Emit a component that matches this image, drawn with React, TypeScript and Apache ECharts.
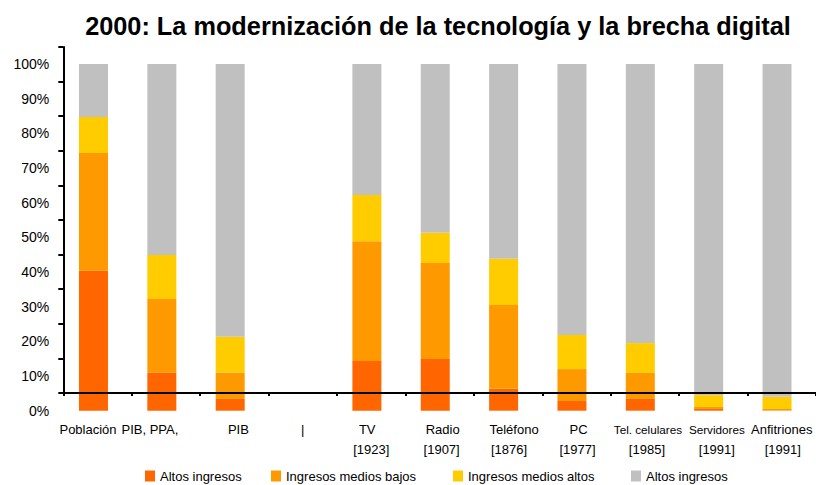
import React, { useEffect, useRef } from "react";
import * as echarts from "echarts";

const titleText = "2000: La modernización de la tecnología y la brecha digital";

const categories = [
  "Población",
  "PIB, PPA,",
  "PIB",
  "|",
  "TV\n[1923]",
  "Radio\n[1907]",
  "Teléfono\n[1876]",
  "PC\n[1977]",
  "Tel. celulares\n[1985]",
  "Servidores\n[1991]",
  "Anfitriones\n[1991]",
];

const seriesLabels = [
  "Altos ingresos",
  "Ingresos medios bajos",
  "Ingresos medios altos",
  "Altos ingresos",
];

const rojo = [40.4, 11.0, 3.4, null, 14.3, 14.9, 6.3, 2.8, 3.4, 0.5, 0.1];
const naranja = [33.9, 21.2, 7.6, null, 34.6, 27.7, 24.2, 9.2, 7.5, 0.6, 0.4];
const amarillo = [10.4, 12.7, 10.3, null, 13.3, 8.7, 13.3, 9.8, 8.6, 3.4, 3.5];
const gris = [15.3, 55.1, 78.7, null, 37.8, 48.7, 56.2, 78.2, 80.5, 95.5, 96.0];

const yTicks = [0, 10, 20, 30, 40, 50, 60, 70, 80, 90, 100];

const seriesValues = [rojo, naranja, amarillo, gris];
const colors = ["#FF6600", "#FF9900", "#FFCC00", "#C0C0C0"];

// label styling (horizontal nudges per line, px) and small-font categories
const labelShift = [
  [-9.5], [-16], [4], [0], [-4, 0], [3, 2], [6, 1], [2, 1], [3, 2], [3.5, 3.5], [0, 1],
];
const smallLabel = [8, 9];

const FONT = "'Liberation Sans', Arial, sans-serif";

export default function App() {
  const ref = useRef<HTMLDivElement>(null);

  useEffect(() => {
    document.body.style.margin = "0";
    if (!ref.current) return;
    const chart = echarts.init(ref.current, null, { renderer: "svg" });

    const rich: Record<string, any> = {};
    categories.forEach((c, k) => {
      c.split("\n").forEach((_, j) => {
        const d = (labelShift[k] && labelShift[k][j]) || 0;
        rich[`c${k}l${j}`] = {
          fontSize: smallLabel.includes(k) && j === 0 ? 11.7 : 13,
          lineHeight: 20,
          color: "#000",
          fontFamily: FONT,
          padding: d >= 0 ? [0, 0, 0, 2 * d] : [0, -2 * d, 0, 0],
        };
      });
    });

    const legendLefts = [145, 271, 453, 631];

    chart.setOption({
      animation: false,
      backgroundColor: "#fff",
      title: {
        text: titleText,
        left: 433,
        textAlign: "center",
        top: 8,
        textStyle: { fontSize: 25.3, fontWeight: "bold", color: "#000", fontFamily: FONT },
      },
      legend: seriesLabels.map((lab, i) => ({
        left: legendLefts[i],
        top: 469,
        data: [`s${i}`],
        formatter: () => lab,
        icon: "rect",
        itemWidth: 10,
        itemHeight: 11,
        selectedMode: false,
        padding: 0,
        textStyle: { fontSize: 13, lineHeight: 14, color: "#000", fontFamily: FONT },
      })),
      grid: [
        { left: 59.3, right: 4.8, top: 64, height: 346.7, containLabel: false },
        { left: 63.3, right: 0, top: 47, height: 346, containLabel: false },
      ],
      xAxis: [
        { type: "category", gridIndex: 0, data: categories, show: false },
        {
          type: "category",
          gridIndex: 1,
          data: categories,
          z: 10,
          axisLine: { show: true, lineStyle: { color: "#000", width: 2 } },
          axisTick: { show: true, length: 3, lineStyle: { color: "#000", width: 2 } },
          axisLabel: {
            interval: 0,
            margin: 26,
            rich,
            formatter: (v: string, idx: number) =>
              v
                .split("\n")
                .map((ln, j) => `{c${idx}l${j}|${ln}}`)
                .join("\n"),
          },
        },
      ],
      yAxis: [
        {
          type: "value",
          gridIndex: 0,
          min: 0,
          max: 100,
          interval: 10,
          axisLine: { show: false },
          axisTick: { show: false },
          splitLine: { show: false },
          axisLabel: {
            margin: 10,
            fontSize: 14,
            color: "#000",
            fontFamily: FONT,
            formatter: (v: number) => (yTicks.includes(v) ? `${v}%` : ""),
          },
        },
        {
          type: "value",
          gridIndex: 1,
          min: 0,
          max: 100,
          interval: 10,
          z: 10,
          axisLine: { show: true, lineStyle: { color: "#000", width: 2 } },
          axisTick: { show: true, length: 5, lineStyle: { color: "#000", width: 2 } },
          axisLabel: { show: false },
          splitLine: { show: false },
        },
      ],
      series: seriesValues.map((vals, i) => ({
        name: `s${i}`,
        type: "bar",
        stack: "total",
        xAxisIndex: 0,
        yAxisIndex: 0,
        barWidth: 29,
        data: vals,
        itemStyle: { color: colors[i] },
        emphasis: { disabled: true },
      })),
    });

    return () => chart.dispose();
  }, []);

  return <div ref={ref} style={{ width: 816, height: 485 }} />;
}
